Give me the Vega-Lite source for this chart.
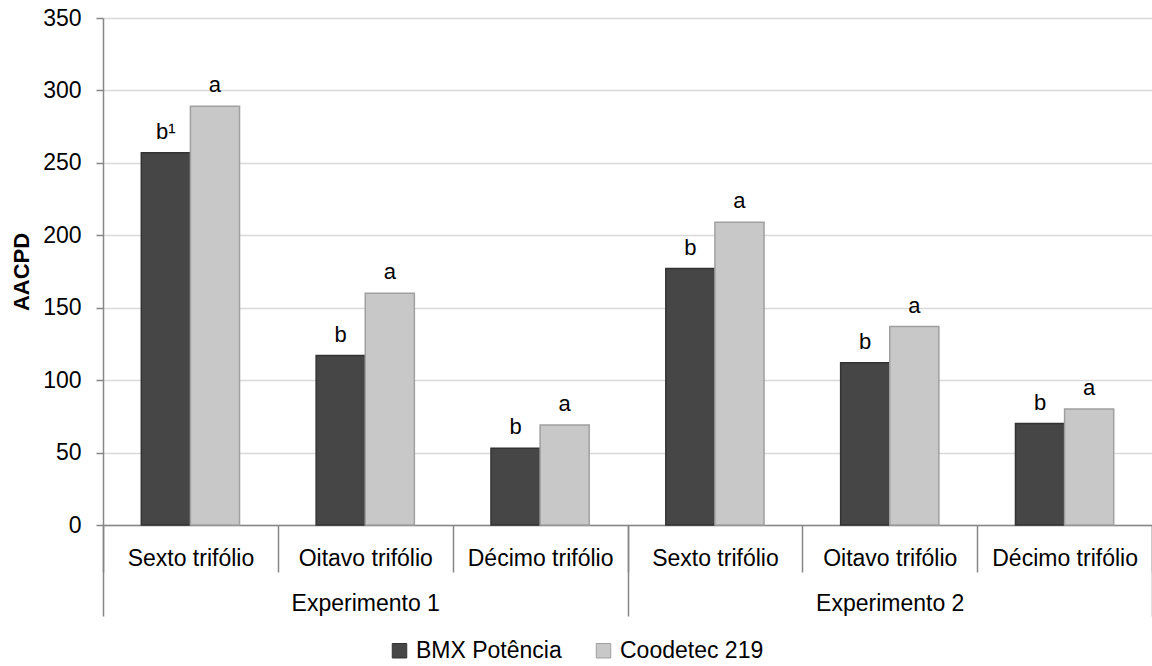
{
  "$schema": "https://vega.github.io/schema/vega-lite/v6.json",
  "width": 1049,
  "height": 507,
  "autosize": {"type": "none"},
  "padding": {"left": 103, "top": 18, "right": 0, "bottom": 141},
  "background": "white",
  "config": {
    "font": "Liberation Sans",
    "view": {"stroke": null},
    "axis": {"labelFont": "Liberation Sans", "labelColor": "#000", "labelFontSize": 23, "domainColor": "#868686", "tickColor": "#868686", "tickWidth": 1.5},
    "legend": {"labelFont": "Liberation Sans", "labelFontSize": 23, "labelColor": "#000"}
  },
  "data": {
    "values": [
      {"exp": "Experimento 1", "cat": "Experimento 1|Sexto trifólio", "cultivar": "BMX Potência", "value": 257, "sig": "b¹"},
      {"exp": "Experimento 1", "cat": "Experimento 1|Sexto trifólio", "cultivar": "Coodetec 219", "value": 289, "sig": "a"},
      {"exp": "Experimento 1", "cat": "Experimento 1|Oitavo trifólio", "cultivar": "BMX Potência", "value": 117, "sig": "b"},
      {"exp": "Experimento 1", "cat": "Experimento 1|Oitavo trifólio", "cultivar": "Coodetec 219", "value": 160, "sig": "a"},
      {"exp": "Experimento 1", "cat": "Experimento 1|Décimo trifólio", "cultivar": "BMX Potência", "value": 53, "sig": "b"},
      {"exp": "Experimento 1", "cat": "Experimento 1|Décimo trifólio", "cultivar": "Coodetec 219", "value": 69, "sig": "a"},
      {"exp": "Experimento 2", "cat": "Experimento 2|Sexto trifólio", "cultivar": "BMX Potência", "value": 177, "sig": "b"},
      {"exp": "Experimento 2", "cat": "Experimento 2|Sexto trifólio", "cultivar": "Coodetec 219", "value": 209, "sig": "a"},
      {"exp": "Experimento 2", "cat": "Experimento 2|Oitavo trifólio", "cultivar": "BMX Potência", "value": 112, "sig": "b"},
      {"exp": "Experimento 2", "cat": "Experimento 2|Oitavo trifólio", "cultivar": "Coodetec 219", "value": 137, "sig": "a"},
      {"exp": "Experimento 2", "cat": "Experimento 2|Décimo trifólio", "cultivar": "BMX Potência", "value": 70, "sig": "b"},
      {"exp": "Experimento 2", "cat": "Experimento 2|Décimo trifólio", "cultivar": "Coodetec 219", "value": 80, "sig": "a"}
    ]
  },
  "layer": [
    {
      "encoding": {
        "x": {
          "field": "cat", "type": "nominal", "sort": null,
          "scale": {"paddingInner": 0, "paddingOuter": 0},
          "axis": {
            "title": null, "labelAngle": 0, "labelExpr": "split(datum.label, '|')[1]",
            "tickBand": "extent", "tickSize": 47, "labelPadding": -14, "labelBaseline": "middle",
            "domainWidth": 1.5, "grid": false
          }
        },
        "xOffset": {"field": "cultivar", "type": "nominal", "sort": null, "scale": {"paddingInner": 0, "paddingOuter": 0.78}},
        "y": {"field": "value", "type": "quantitative"}
      },
      "layer": [
        {
          "mark": {"type": "bar", "strokeWidth": 1.5},
          "encoding": {
            "y": {
              "field": "value", "type": "quantitative",
              "scale": {"domain": [0, 350], "nice": false},
              "axis": {
                "title": "AACPD", "titleFontSize": 22, "titleFontWeight": "bold", "titleColor": "#000",
                "titlePadding": 9, "values": [0, 50, 100, 150, 200, 250, 300, 350],
                "tickSize": 7, "labelPadding": 15, "gridColor": "#d9d9d9", "gridWidth": 1.5, "domainWidth": 1.5
              }
            },
            "color": {
              "field": "cultivar", "type": "nominal", "sort": null,
              "scale": {"domain": ["BMX Potência", "Coodetec 219"], "range": ["#464646", "#c8c8c8"]},
              "legend": {
                "title": null, "orient": "none", "legendX": 285, "legendY": 621, "direction": "horizontal",
                "symbolType": "square", "symbolSize": 210, "symbolStrokeWidth": 1,
                "columnPadding": 30, "labelOffset": 5
              }
            },
            "stroke": {
              "field": "cultivar", "type": "nominal", "sort": null,
              "scale": {"domain": ["BMX Potência", "Coodetec 219"], "range": ["#333333", "#a0a0a0"]},
              "legend": null
            }
          }
        },
        {
          "mark": {"type": "text", "baseline": "alphabetic", "dy": -14, "fontSize": 22, "color": "#000"},
          "encoding": {"text": {"field": "sig"}}
        }
      ]
    },
    {
      "mark": {"type": "rule", "opacity": 0},
      "encoding": {
        "x": {
          "field": "exp", "type": "nominal", "sort": null,
          "scale": {"paddingInner": 0, "paddingOuter": 0},
          "axis": {
            "orient": "bottom", "title": null, "labelAngle": 0, "domain": false, "grid": false,
            "tickBand": "extent", "tickSize": 91, "labelPadding": -13, "labelBaseline": "middle"
          }
        },
        "y": {"datum": 0, "type": "quantitative"}
      }
    }
  ],
  "resolve": {"scale": {"x": "independent"}, "axis": {"x": "independent"}}
}
